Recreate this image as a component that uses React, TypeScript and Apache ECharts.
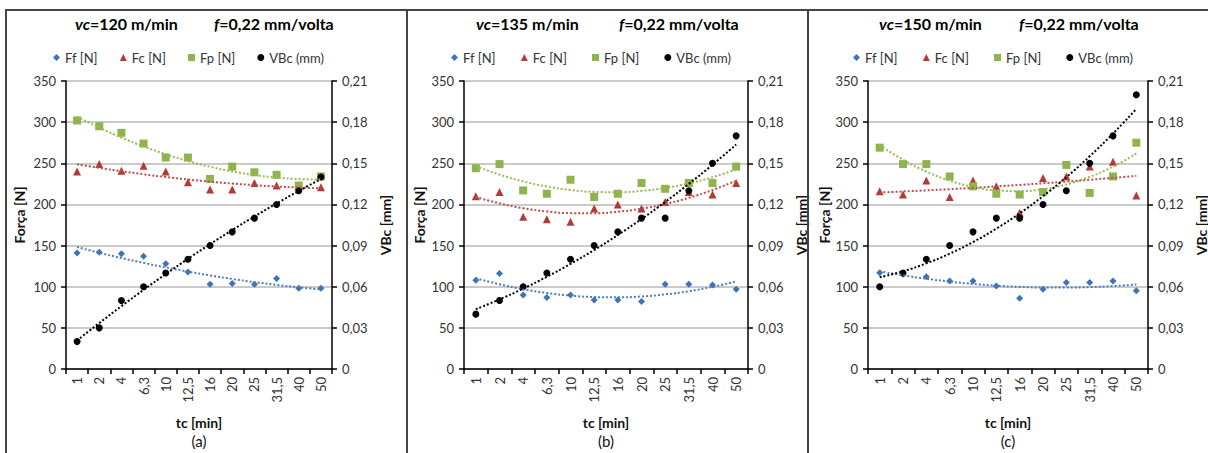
import React, { useEffect, useRef } from "react";
import * as echarts from "echarts";

const categories = ["1", "2", "4", "6,3", "10", "12,5", "16", "20", "25", "31,5", "40", "50"];

// Panel (a) vc = 120 m/min
const ffA = [141, 142, 140, 137, 128, 118, 103, 104, 103, 110, 98, 98];
const fcA = [240, 249, 241, 247, 240, 227, 218, 218, 226, 223, 222, 221];
const fpA = [302, 295, 287, 274, 257, 257, 231, 246, 239, 236, 223, 234];
const vbA = [0.02, 0.03, 0.05, 0.06, 0.07, 0.08, 0.09, 0.1, 0.11, 0.12, 0.13, 0.14];

// Panel (b) vc = 135 m/min
const ffB = [108, 116, 90, 87, 90, 84, 84, 82, 103, 103, 102, 97];
const fcB = [210, 215, 185, 182, 179, 195, 200, 195, 203, 215, 212, 226];
const fpB = [244, 249, 217, 213, 230, 209, 213, 226, 219, 226, 226, 246];
const vbB = [0.04, 0.05, 0.06, 0.07, 0.08, 0.09, 0.1, 0.11, 0.11, 0.13, 0.15, 0.17];

// Panel (c) vc = 150 m/min
const ffC = [117, 115, 112, 107, 107, 101, 86, 97, 105, 105, 107, 95];
const fcC = [216, 212, 229, 209, 229, 222, 190, 232, 234, 246, 252, 211];
const fpC = [269, 249, 249, 234, 222, 213, 212, 215, 248, 214, 234, 275];
const vbC = [0.06, 0.07, 0.08, 0.09, 0.1, 0.11, 0.11, 0.12, 0.13, 0.15, 0.17, 0.2];

const speeds = ["120", "135", "150"];
const tags = ["(a)", "(b)", "(c)"];
const seriesNames = ["Ff [N]", "Fc [N]", "Fp [N]", "VBc (mm)"];
const forceTicks = { min: 0, max: 350, interval: 50 };
const wearTicks = { min: 0, max: 0.21, interval: 0.03 };

const FONT = 'Lato, "Open Sans", sans-serif';
const COLORS = ["#3f73b5", "#b23b37", "#8fb34d", "#000000"];
const TREND_COLORS = ["#4a7ebb", "#be4b48", "#98b954", "#000000"];
const SYMBOLS = ["diamond", "triangle", "rect", "circle"];
const SYMBOL_SIZES = [7, 8, 8, 7];

// least-squares 2nd order polynomial trend (as the spreadsheet trendline)
function quadFit(ys: number[]): number[] {
  let S0 = 0, S1 = 0, S2 = 0, S3 = 0, S4 = 0, T0 = 0, T1 = 0, T2 = 0;
  ys.forEach((y, i) => {
    const x = i + 1;
    S0 += 1; S1 += x; S2 += x * x; S3 += x * x * x; S4 += x * x * x * x;
    T0 += y; T1 += x * y; T2 += x * x * y;
  });
  const det = (m: number[][]) =>
    m[0][0] * (m[1][1] * m[2][2] - m[1][2] * m[2][1]) -
    m[0][1] * (m[1][0] * m[2][2] - m[1][2] * m[2][0]) +
    m[0][2] * (m[1][0] * m[2][1] - m[1][1] * m[2][0]);
  const M = [[S4, S3, S2], [S3, S2, S1], [S2, S1, S0]];
  const R = [T2, T1, T0];
  const D = det(M);
  const col = (k: number) => M.map((row, r) => row.map((v, c) => (c === k ? R[r] : v)));
  const a = det(col(0)) / D, b = det(col(1)) / D, c = det(col(2)) / D;
  return ys.map((_, i) => {
    const x = i + 1;
    return a * x * x + b * x + c;
  });
}

const panelData = [
  [ffA, fcA, fpA, vbA],
  [ffB, fcB, fpB, vbB],
  [ffC, fcC, fpC, vbC],
];

// layout (pixels)
const grids = [
  { left: 66, top: 81, width: 266, height: 288 },
  { left: 464, top: 81, width: 284, height: 288 },
  { left: 868, top: 81, width: 280, height: 288 },
];
const titlePos = [
  [75, 214],
  [476, 619],
  [879, 1019],
];
const legendPos = [
  { left: 53, gap: 22 },
  { left: 451, gap: 25 },
  { left: 853, gap: 25 },
];
const leftNameX = [19, 419, 824];
const rightNameX = [385, 801, 1201];

export default function App() {
  const ref = useRef<HTMLDivElement>(null);
  useEffect(() => {
    if (!ref.current) return;
    const chart = echarts.init(ref.current, null, { renderer: "svg" });

    const xAxis: any[] = [];
    const yAxis: any[] = [];
    const series: any[] = [];
    const title: any[] = [];
    const legend: any[] = [];
    const graphic: any[] = [];

    const axisLineStyle = { color: "#000", width: 1.5 };
    const labelStyle = { color: "#333", fontFamily: FONT, fontSize: 13 };

    grids.forEach((g, p) => {
      xAxis.push({
        type: "category",
        gridIndex: p,
        data: categories,
        boundaryGap: true,
        axisLine: { lineStyle: axisLineStyle },
        axisTick: { show: true, alignWithLabel: false, length: 5, lineStyle: { color: "#000", width: 1.5 } },
        axisLabel: { rotate: 90, interval: 0, margin: 8, ...labelStyle },
        splitLine: { show: false },
      });
      yAxis.push({
        type: "value",
        gridIndex: p,
        position: "left",
        ...forceTicks,
        axisLine: { show: true, lineStyle: axisLineStyle },
        axisTick: { show: true, length: 5, lineStyle: { color: "#000", width: 1.5 } },
        axisLabel: { margin: 10, ...labelStyle },
        splitLine: { show: true, lineStyle: { color: "#b8b8b8", width: 1.6 } },
      });
      yAxis.push({
        type: "value",
        gridIndex: p,
        position: "right",
        ...wearTicks,
        axisLine: { show: true, lineStyle: axisLineStyle },
        axisTick: { show: true, length: 5, lineStyle: { color: "#000", width: 1.5 } },
        axisLabel: {
          margin: 10,
          ...labelStyle,
          formatter: (v: number) => (v === 0 ? "0" : v.toFixed(2).replace(".", ",")),
        },
        splitLine: { show: false },
      });

      const data = panelData[p];
      data.forEach((vals, k) => {
        const yIdx = k === 3 ? 2 * p + 1 : 2 * p;
        series.push({
          name: seriesNames[k],
          type: "scatter",
          xAxisIndex: p,
          yAxisIndex: yIdx,
          data: vals,
          symbol: SYMBOLS[k],
          symbolSize: SYMBOL_SIZES[k],
          itemStyle: { color: COLORS[k], opacity: 1 },
          z: 3,
        });
      });
      data.forEach((vals, k) => {
        const yIdx = k === 3 ? 2 * p + 1 : 2 * p;
        series.push({
          name: "trend " + p + "-" + k,
          type: "line",
          xAxisIndex: p,
          yAxisIndex: yIdx,
          data: quadFit(vals),
          smooth: true,
          symbol: "none",
          showSymbol: false,
          lineStyle: { color: TREND_COLORS[k], width: 2, type: [2, 2] },
          silent: true,
          z: 4,
        });
      });

      const rich = {
        i: { fontStyle: "italic", fontWeight: "bold", fontSize: 16, fontFamily: FONT, color: "#000" },
        n: { fontWeight: "bold", fontSize: 16, fontFamily: FONT, color: "#000" },
      };
      title.push({
        text: "{i|vc}{n|=" + speeds[p] + " m/min}",
        left: titlePos[p][0],
        top: 15,
        padding: 0,
        textStyle: { rich },
      });
      title.push({
        text: "{i|f}{n|=0,22 mm/volta}",
        left: titlePos[p][1],
        top: 15,
        padding: 0,
        textStyle: { rich },
      });

      legend.push({
        left: legendPos[p].left,
        top: 51,
        padding: 0,
        itemWidth: 7,
        itemHeight: 7,
        itemGap: legendPos[p].gap,
        textStyle: { color: "#333", fontFamily: FONT, fontSize: 13 },
        data: seriesNames.map((n, k) => ({ name: n, icon: SYMBOLS[k] })),
      });

      const cx = g.left + g.width / 2;
      const cy = g.top + g.height / 2;
      const textBase = { fill: "#111", align: "center", verticalAlign: "middle", textAlign: "center", textVerticalAlign: "middle" };
      graphic.push({
        type: "text",
        x: leftNameX[p],
        y: cy - 10,
        rotation: Math.PI / 2,
        style: { ...textBase, text: "Força [N]", font: "bold 14px " + FONT },
      });
      graphic.push({
        type: "text",
        x: rightNameX[p],
        y: cy,
        rotation: Math.PI / 2,
        style: { ...textBase, text: "VBc [mm]", font: "bold 14px " + FONT },
      });
      graphic.push({
        type: "text",
        x: cx,
        y: 422,
        style: { ...textBase, text: "tc [min]", font: "bold 14px " + FONT },
      });
      graphic.push({
        type: "text",
        x: cx,
        y: 441,
        style: { ...textBase, text: tags[p], font: "15px " + FONT },
      });
    });

    // panel frames
    const frame = { stroke: "#444", lineWidth: 2 };
    graphic.push({ type: "line", shape: { x1: 5, y1: 10, x2: 1208, y2: 10 }, style: frame });
    [6, 407, 808].forEach((x) =>
      graphic.push({ type: "line", shape: { x1: x, y1: 10, x2: x, y2: 453 }, style: frame })
    );

    chart.setOption({
      animation: false,
      backgroundColor: "#fff",
      grid: grids.map((g) => ({ ...g, containLabel: false })),
      xAxis,
      yAxis,
      series,
      title,
      legend,
      graphic,
    });
    return () => chart.dispose();
  }, []);
  return (
    <div
      ref={ref}
      style={{ position: "fixed", left: 0, top: 0, width: 1208, height: 453, background: "#fff" }}
    />
  );
}
